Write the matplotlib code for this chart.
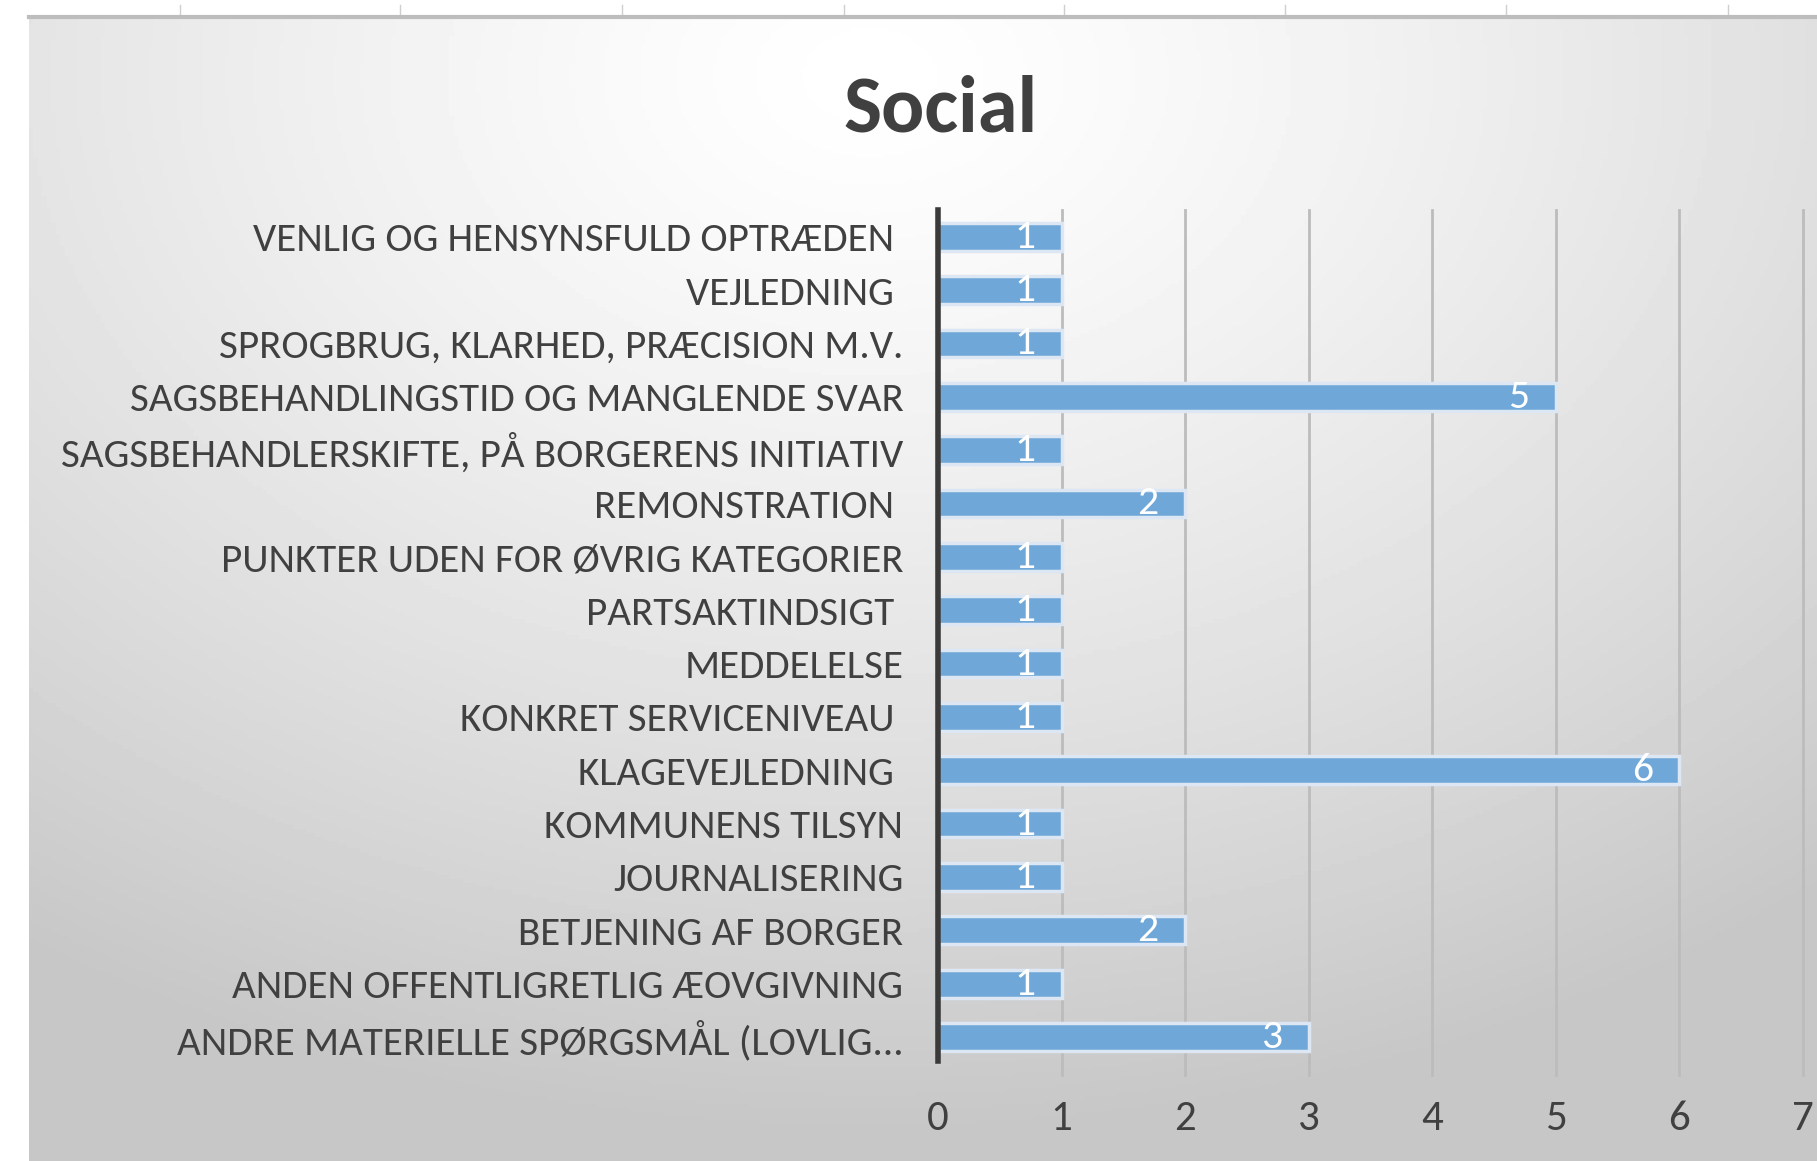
import matplotlib.pyplot as plt
import numpy as np
from matplotlib.lines import Line2D

# Data for the chart (top to bottom)
categories = ['VENLIG OG HENSYNSFULD OPTRÆDEN ', 'VEJLEDNING ',
              'SPROGBRUG, KLARHED, PRÆCISION M.V.', 'SAGSBEHANDLINGSTID OG MANGLENDE SVAR',
              'SAGSBEHANDLERSKIFTE, PÅ BORGERENS INITIATIV', 'REMONSTRATION ',
              'PUNKTER UDEN FOR ØVRIG KATEGORIER', 'PARTSAKTINDSIGT ', 'MEDDELELSE',
              'KONKRET SERVICENIVEAU ', 'KLAGEVEJLEDNING ', 'KOMMUNENS TILSYN',
              'JOURNALISERING', 'BETJENING AF BORGER', 'ANDEN OFFENTLIGRETLIG ÆOVGIVNING',
              'ANDRE MATERIELLE SPØRGSMÅL (LOVLIG...']
counts = [1, 1, 1, 5, 1, 2, 1, 1, 1, 1, 6, 1, 1, 2, 1, 3]
x_ticks = [0, 1, 2, 3, 4, 5, 6, 7]

font = ['Carlito', 'Liberation Sans', 'DejaVu Sans']
bar_color = '#6fa7d9'
text_color = '#404040'

fig = plt.figure(figsize=(18.17, 11.61), dpi=100)
fig.patch.set_facecolor('white')

# gradient background panel (white near the top centre, grey towards edges)
bg = fig.add_axes([29 / 1817, 0, 1 - 29 / 1817, 1 - 17 / 1161], zorder=0)
yy, xx = np.mgrid[0:1:300j, 0:1:400j]
r = np.sqrt(((xx - 0.47) * 1.0) ** 2 + ((yy - 0.05) * 0.9) ** 2)
shade = np.clip(1.0 - 0.28 * r ** 1.3, 0.78, 1.0)
bg.imshow(shade, cmap='gray', vmin=0, vmax=1, aspect='auto', extent=[0, 1, 1, 0])
bg.axis('off')

# ruler marks and top border line
for xp in [180, 400, 622, 844, 1064, 1285, 1506, 1728]:
    fig.add_artist(Line2D([xp / 1817] * 2, [1 - 5 / 1161, 1 - 14 / 1161], color='#cfcfcf', lw=1))
fig.add_artist(Line2D([29 / 1817, 1], [1 - 17 / 1161] * 2, color='#bdbdbd', lw=3))

ax = fig.add_axes([938 / 1817, 1 - 1061 / 1161, (1803 - 938) / 1817, (1061 - 210) / 1161], zorder=1)
ax.patch.set_alpha(0)

index = np.arange(len(categories))
ax.barh(index, counts, height=0.52, color=bar_color, edgecolor='#dce7f3', linewidth=2.5, zorder=3)
for i, v in zip(index, counts):
    ax.text(v - 0.3, i, str(v), color='white', ha='center', va='center',
            fontsize=30, family=font, zorder=4)

ax.set_ylim(len(categories) - 0.55, -0.5)
ax.set_xlim(0, 7)
ax.set_yticks(index)
ax.set_yticklabels(categories, family=font, fontsize=29.5, color=text_color)
ax.set_xticks(x_ticks)
ax.set_xticklabels([str(t) for t in x_ticks], family=font, fontsize=31, color=text_color)
ax.tick_params(axis='y', length=0, pad=25)
ax.tick_params(axis='x', length=0, pad=28)

# vertical gridlines, running a little below the plot area as in the original
for t in x_ticks[1:]:
    ax.axvline(t, ymin=-0.017, ymax=1, color='#bcbcbc', linewidth=2, zorder=1, clip_on=False)
for side in ['top', 'right', 'bottom']:
    ax.spines[side].set_visible(False)
ax.spines['left'].set_color('#3a3a3a')
ax.spines['left'].set_linewidth(4)
ax.spines['left'].set_zorder(5)

fig.text(941 / 1817, 1 - 110 / 1161, 'Social', ha='center', va='center',
         fontsize=58, fontweight='bold', family=font, color=text_color)

plt.savefig('out.png', dpi=100)
